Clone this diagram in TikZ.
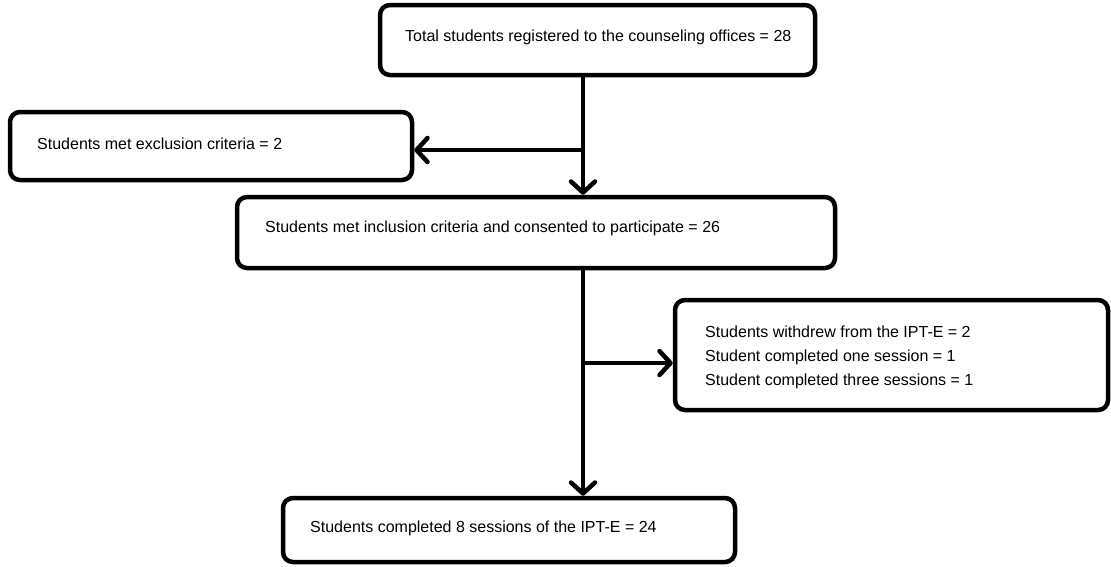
\documentclass[tikz,border=0pt]{standalone}
\usepackage{fontspec}
\setmainfont{Liberation Sans}
\usetikzlibrary{arrows.meta,calc}
\begin{document}
\begin{tikzpicture}[x=1pt,y=-1pt,
  box/.style={draw=black, line width=4.5pt, rounded corners=10pt, fill=white, inner sep=0pt},
  txt/.style={anchor=west, inner sep=0pt, font=\fontsize{16}{24}\selectfont, align=left},
  conn/.style={draw=black, line width=4.5pt, -{Straight Barb[length=11pt,width=24pt,line width=4.5pt,round]}}]
\useasboundingbox (0,0) rectangle (1111,566);
\node[box, minimum width=435pt, minimum height=70pt] (b1) at (597.5,40) {};
\node[txt] (t1) at (405,37) {Total students registered to the counseling offices = 28};
\node[box, minimum width=402pt, minimum height=68pt] (b2) at (211,146) {};
\node[txt] (t2) at (37,144) {Students met exclusion criteria = 2};
\node[box, minimum width=598pt, minimum height=71pt] (b3) at (536,232.5) {};
\node[txt] (t3) at (265,228) {Students met inclusion criteria and consented to participate = 26};
\node[box, minimum width=433pt, minimum height=110pt] (b4) at (891.5,355) {};
\node[txt] (t4) at (705,357) {Students withdrew from the IPT-E = 2\\Student completed one session = 1\\Student completed three sessions = 1};
\node[box, minimum width=452pt, minimum height=64pt] (b5) at (509,530) {};
\node[txt] (t5) at (310,528) {Students completed 8 sessions of the IPT-E = 24};
\coordinate (j1) at (583,150);
\coordinate (j2) at (583,363);
\draw[conn] (b1.south -| j1) -- (b3.north -| j1);
\draw[conn] (j1) -- (b2.east |- j1);
\draw[conn] (b3.south -| j2) -- (b5.north -| j2);
\draw[conn] (j2) -- (b4.west |- j2);
\end{tikzpicture}
\end{document}
